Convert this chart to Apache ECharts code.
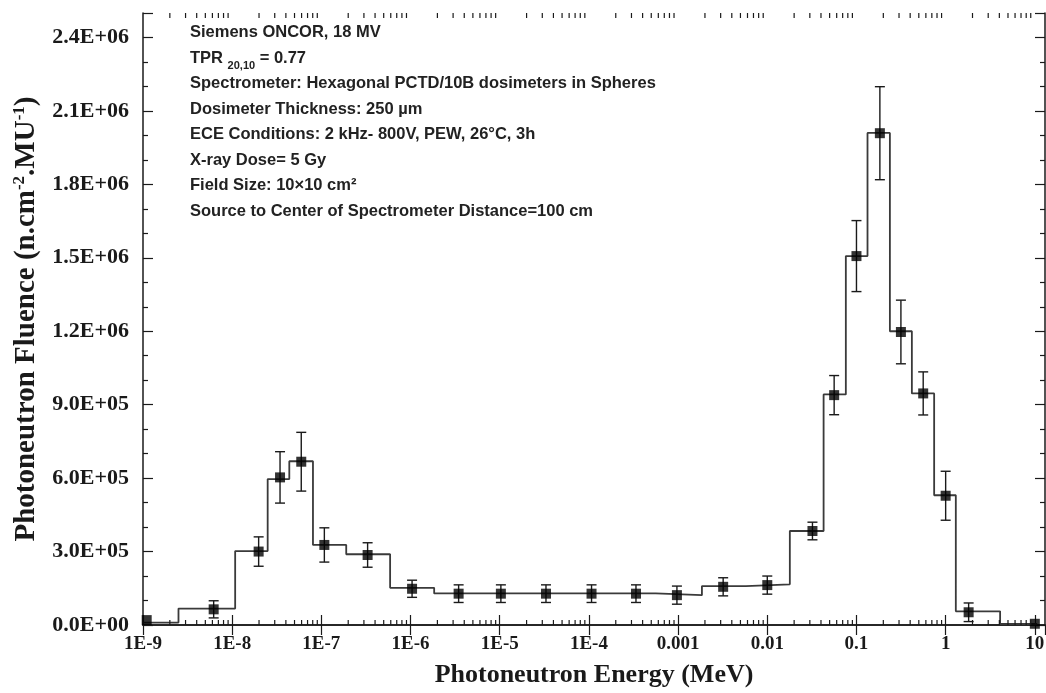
<!DOCTYPE html>
<html><head><meta charset="utf-8">
<script src="https://cdn.jsdelivr.net/npm/echarts@6/dist/echarts.min.js"></script>
<style>html,body{margin:0;padding:0;background:#fff}#c{width:1046px;height:693px}</style>
</head><body><div id="c"></div>
<script>
// Histogram bins (MeV) and fluence values
const binEdges = [1e-9, 2.5e-9, 1.08e-8, 2.5e-8, 4.37e-8, 8.05e-8, 1.9e-7, 5.9e-7, 1.84e-6, 5.6e-4, 1.85e-3, 5.75e-3, 0.0179, 0.0428, 0.076, 0.133, 0.237, 0.418, 0.743, 1.30, 4.08, 10.5];
const binValues = [1.0e4, 6.7e4, 3.02e5, 5.96e5, 6.69e5, 3.27e5, 2.89e5, 1.52e5, 1.29e5, 1.22e5, 1.59e5, 1.66e5, 3.84e5, 9.42e5, 1.507e6, 2.01e6, 1.2e6, 9.46e5, 5.3e5, 5.6e4, 4e3];
// Measured points with error bars
const pointEnergy = [1.1e-9, 6.2e-9, 1.98e-8, 3.44e-8, 5.95e-8, 1.08e-7, 3.3e-7, 1.04e-6, 3.46e-6, 1.03e-5, 3.3e-5, 1.07e-4, 3.37e-4, 9.7e-4, 3.2e-3, 0.01, 0.0321, 0.0562, 0.1, 0.183, 0.315, 0.56, 1.0, 1.81, 10];
const pointFluence = [2e4, 6.4e4, 3.0e5, 6.03e5, 6.67e5, 3.27e5, 2.86e5, 1.48e5, 1.28e5, 1.28e5, 1.28e5, 1.28e5, 1.28e5, 1.22e5, 1.56e5, 1.63e5, 3.84e5, 9.39e5, 1.507e6, 2.009e6, 1.197e6, 9.46e5, 5.28e5, 5.2e4, 5e3];
const pointError = [0, 3.5e4, 6e4, 1.05e5, 1.2e5, 7e4, 5e4, 3.5e4, 3.6e4, 3.6e4, 3.6e4, 3.6e4, 3.6e4, 3.7e4, 3.7e4, 3.7e4, 3.6e4, 8e4, 1.45e5, 1.9e5, 1.3e5, 8.8e4, 1.0e5, 3.8e4, 0];
// Axis settings
const xMin = 1e-9, xMax = 13;
const yMin = 0, yMax = 2.5e6, yInterval = 3e5;
const minorMultipliers = [2, 3, 4, 5, 6, 7, 8, 9];
const decades = [-9, -8, -7, -6, -5, -4, -3, -2, -1, 0];
const annotationLines = [
  'Siemens ONCOR, 18 MV',
  '{n|TPR }{s|20,10}{n| = 0.77}',
  'Spectrometer: Hexagonal PCTD/10B dosimeters in Spheres',
  'Dosimeter Thickness: 250 µm',
  'ECE Conditions: 2 kHz- 800V, PEW, 26°C, 3h',
  'X-ray Dose= 5 Gy',
  'Field Size: 10×10 cm²',
  'Source to Center of Spectrometer Distance=100 cm'
];

const stepData = [];
for (let i = 0; i < binValues.length; i++) {
  stepData.push([binEdges[i], binValues[i]]);
  stepData.push([binEdges[i + 1], binValues[i]]);
}
stepData.push([binEdges[binEdges.length - 1], 0]);

const minorTicks = [];
decades.forEach(d => minorMultipliers.forEach(m => minorTicks.push([m * Math.pow(10, d)])));

const errData = pointEnergy.map((e, i) => [e, pointFluence[i], pointError[i]]);
const ptData = pointEnergy.map((e, i) => [e, pointFluence[i]]);

function yFmt(v) {
  if (v === 0) return '0.0E+00';
  const e = Math.floor(Math.log10(v) + 1e-9);
  const m = (v / Math.pow(10, e)).toFixed(1);
  return m + 'E+' + String(e).padStart(2, '0');
}
function xFmt(v) {
  const e = Math.round(Math.log10(v));
  if (Math.abs(Math.log10(v) - e) > 1e-6) return '';
  if (e < -3) return '1E' + e;
  return String(Number('1e' + e));
}

const axisCol = '#1a1a1a';
const labelFont = { fontFamily: 'Liberation Serif', fontWeight: 'bold', color: '#1a1a1a' };

const chart = echarts.init(document.getElementById('c'), null, { renderer: 'canvas' });
chart.setOption({
  animation: false,
  backgroundColor: '#fff',
  grid: { left: 143, right: 1, top: 13, bottom: 68, containLabel: false, outerBoundsMode: 'none' },
  xAxis: [{
    type: 'log', logBase: 10, min: xMin, max: xMax, interval: 1,
    position: 'bottom',
    name: 'Photoneutron Energy (MeV)', nameLocation: 'middle', nameGap: 37,
    nameTextStyle: { fontFamily: 'Liberation Serif', fontWeight: 'bold', fontSize: 26, color: '#1a1a1a' },
    axisLine: { show: true, lineStyle: { color: axisCol, width: 1.5 } },
    axisTick: { show: true, inside: true, length: 10, lineStyle: { color: axisCol, width: 1.2 } },
    axisLabel: Object.assign({ formatter: xFmt, margin: 10, showMaxLabel: false, fontSize: 19 }, labelFont),
    splitLine: { show: false }
  }, {
    type: 'log', logBase: 10, min: xMin, max: xMax, interval: 1,
    position: 'top',
    axisLine: { show: true, lineStyle: { color: axisCol, width: 1.5 } },
    axisTick: { show: true, inside: true, length: 10, lineStyle: { color: axisCol, width: 1.2 } },
    axisLabel: { show: false },
    splitLine: { show: false }
  }],
  yAxis: [{
    type: 'value', min: yMin, max: yMax, interval: yInterval,
    position: 'left',
    name: '{a|Photoneutron Fluence (n.cm}{s|-2}{a|.MU}{s|-1}{a|)}',
    nameLocation: 'middle', nameGap: 99, nameRotate: 90,
    nameTextStyle: {
      rich: {
        a: { fontFamily: 'Liberation Serif', fontWeight: 'bold', fontSize: 29, color: '#1a1a1a', lineHeight: 32 },
        s: { fontFamily: 'Liberation Serif', fontWeight: 'bold', fontSize: 17, color: '#1a1a1a', verticalAlign: 'top', lineHeight: 32 }
      }
    },
    axisLine: { show: true, lineStyle: { color: axisCol, width: 1.5 } },
    axisTick: { show: true, inside: true, length: 10, lineStyle: { color: axisCol, width: 1.2 } },
    minorTick: { show: true, splitNumber: 3, length: 5, lineStyle: { color: axisCol, width: 1.2 } },
    axisLabel: Object.assign({ formatter: yFmt, margin: 14, showMaxLabel: false, fontSize: 22 }, labelFont),
    splitLine: { show: false }
  }, {
    type: 'value', min: yMin, max: yMax, interval: yInterval,
    position: 'right',
    axisLine: { show: true, lineStyle: { color: axisCol, width: 1.5 } },
    axisTick: { show: true, inside: true, length: 10, lineStyle: { color: axisCol, width: 1.2 } },
    minorTick: { show: true, splitNumber: 3, length: 5, lineStyle: { color: axisCol, width: 1.2 } },
    axisLabel: { show: false },
    splitLine: { show: false }
  }],
  graphic: [{
    type: 'text', left: 190, top: 20, z: 10,
    style: {
      text: annotationLines.join('\n'),
      fontFamily: 'Liberation Sans', fontWeight: 'bold', fontSize: 16.5, fill: '#222',
      lineHeight: 25.5,
      rich: {
        n: { fontFamily: 'Liberation Sans', fontWeight: 'bold', fontSize: 16.5, fill: '#222', lineHeight: 25.5 },
        s: { fontFamily: 'Liberation Sans', fontWeight: 'bold', fontSize: 11, fill: '#222', lineHeight: 25.5, verticalAlign: 'bottom', padding: [7, 0, 0, 0] }
      }
    }
  }],
  series: [{
    name: 'histogram', type: 'line', data: stepData, showSymbol: false, symbol: 'none',
    xAxisIndex: 0, yAxisIndex: 0,
    lineStyle: { color: '#3a3a3a', width: 1.8 }, z: 2, silent: true
  }, {
    name: 'errors', type: 'custom', data: errData, xAxisIndex: 0, yAxisIndex: 0, z: 3, silent: true,
    renderItem: function (params, api) {
      const x = api.value(0), y = api.value(1), err = api.value(2);
      if (!err) return null;
      const top = api.coord([x, y + err]);
      const bot = api.coord([x, y - err]);
      const hw = 5;
      const st = { stroke: '#1a1a1a', lineWidth: 1.4, fill: null };
      return { type: 'group', children: [
        { type: 'line', shape: { x1: top[0], y1: top[1], x2: bot[0], y2: bot[1] }, style: st },
        { type: 'line', shape: { x1: top[0] - hw, y1: top[1], x2: top[0] + hw, y2: top[1] }, style: st },
        { type: 'line', shape: { x1: bot[0] - hw, y1: bot[1], x2: bot[0] + hw, y2: bot[1] }, style: st }
      ] };
    }
  }, {
    name: 'points', type: 'scatter', data: ptData, xAxisIndex: 0, yAxisIndex: 0,
    symbol: 'rect', symbolSize: 10, itemStyle: { color: '#000' }, z: 4, silent: true
  }, {
    name: 'minorTicks', type: 'custom', data: minorTicks, xAxisIndex: 0, yAxisIndex: 0, z: 5, silent: true,
    renderItem: function (params, api) {
      const b = api.coord([api.value(0), yMin]);
      const t = api.coord([api.value(0), yMax]);
      const st = { stroke: axisCol, lineWidth: 1.2 };
      return { type: 'group', children: [
        { type: 'line', shape: { x1: b[0], y1: b[1], x2: b[0], y2: b[1] - 5 }, style: st },
        { type: 'line', shape: { x1: t[0], y1: t[1], x2: t[0], y2: t[1] + 5 }, style: st }
      ] };
    }
  }]
});
</script></body></html>
